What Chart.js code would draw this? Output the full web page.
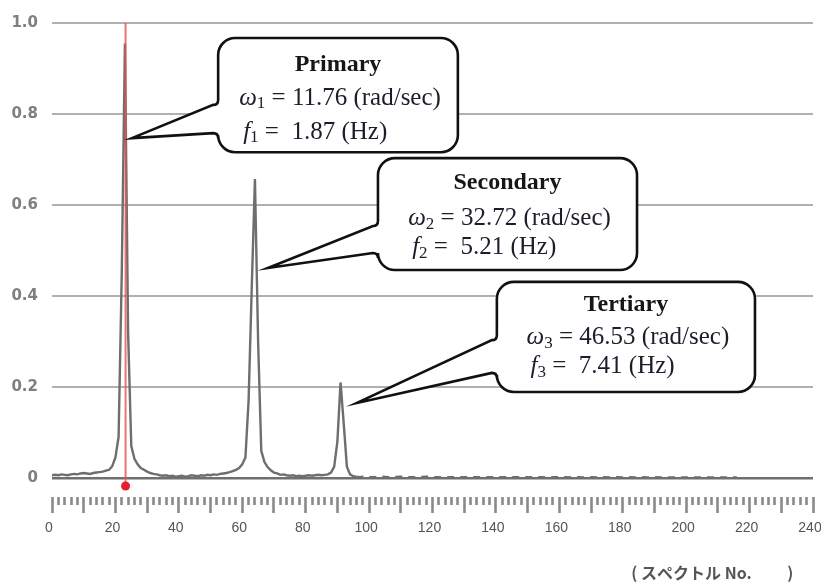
<!DOCTYPE html>
<html>
<head>
<meta charset="utf-8">
<script src="https://cdn.jsdelivr.net/npm/chart.js@4.4.1/dist/chart.umd.min.js"></script>
<style>
  html, body { margin: 0; padding: 0; background: #fff; }
  #wrap { width: 821px; height: 586px; }
</style>
</head>
<body>
<div id="wrap"><canvas id="grafica" width="821" height="586"></canvas></div>
<script>
// Espectro: número de espectro (x) y amplitud normalizada (y)
const spectrumNo = [
  0, 1, 2, 3, 4, 5, 6, 7, 8, 9, 10, 11, 12, 13, 14, 15, 16, 17, 18, 19,
  20, 21, 22, 23, 24, 25, 26, 27, 28, 29, 30, 31, 32, 33, 34, 35, 36, 37, 38, 39,
  40, 41, 42, 43, 44, 45, 46, 47, 48, 49, 50, 51, 52, 53, 54, 55, 56, 57, 58, 59,
  60, 61, 62, 63, 64, 65, 66, 67, 68, 69, 70, 71, 72, 73, 74, 75, 76, 77, 78, 79,
  80, 81, 82, 83, 84, 85, 86, 87, 88, 89, 90, 91, 92, 93, 94, 95, 96, 97, 98, 99,
  100, 102, 104, 106, 108, 110, 112, 114, 116, 118, 120, 122, 124, 126, 128, 130,
  132, 134, 136, 138, 140, 142, 144, 146, 148, 150, 152, 154, 156, 158, 160, 162,
  164, 166, 168, 170, 172, 174, 176, 178, 180, 182, 184, 186, 188, 190, 192, 194,
  196, 198, 200, 202, 204, 206, 208, 210, 212, 214, 216
];
const amplitude = [
  0.006, 0.007, 0.006, 0.008, 0.007, 0.006, 0.008, 0.009, 0.008, 0.010, 0.011, 0.010, 0.009, 0.011, 0.012, 0.013, 0.014, 0.016, 0.018, 0.026,
  0.045, 0.090, 0.450, 0.955, 0.320, 0.070, 0.042, 0.030, 0.022, 0.018, 0.014, 0.011, 0.009, 0.008, 0.006, 0.005, 0.006, 0.004, 0.005, 0.003,
  0.004, 0.005, 0.003, 0.004, 0.006, 0.005, 0.004, 0.006, 0.005, 0.007, 0.006, 0.008, 0.007, 0.009, 0.010, 0.011, 0.013, 0.015, 0.018, 0.022,
  0.030, 0.045, 0.170, 0.420, 0.657, 0.300, 0.060, 0.035, 0.024, 0.017, 0.012, 0.010, 0.007, 0.008, 0.006, 0.005, 0.006, 0.004, 0.005, 0.004,
  0.005, 0.006, 0.005, 0.006, 0.007, 0.006, 0.007, 0.008, 0.012, 0.025, 0.080, 0.210, 0.120, 0.025, 0.008, 0.004, 0.003, 0.002, 0.003, 0.002,
  0.002, 0.002, 0.003, 0.002, 0.002, 0.003, 0.002, 0.002, 0.002, 0.003, 0.002, 0.002, 0.002, 0.002, 0.002, 0.002,
  0.002, 0.002, 0.002, 0.002, 0.002, 0.002, 0.002, 0.002, 0.002, 0.002, 0.002, 0.002, 0.002, 0.002, 0.002, 0.002,
  0.001, 0.002, 0.001, 0.002, 0.001, 0.002, 0.001, 0.002, 0.001, 0.002, 0.001, 0.002, 0.001, 0.002, 0.001, 0.001,
  0.001, 0.001, 0.001, 0.001, 0.001, 0.001, 0.001, 0.001, 0.001, 0.001, 0.001, 0.001, 0.001
];

// Línea roja del pico primario
const markerSpectrumNo = 23.2;
const markerAmplitude = [1.0, -0.0176];

// Textos de los globos
const peakNames = ['Primary', 'Secondary', 'Tertiary'];
const peakIndex = ['1', '2', '3'];
const omegaValues = ['11.76', '32.72', '46.53'];
const freqValues = ['1.87', '5.21', '7.41'];

// Geometría de los globos en unidades de datos (caja, punta, uniones) + filas de texto en px
const calloutBoxes = [
  { x0: 52.4, x1: 128.0, yTop: 0.967, yBottom: 0.716, tipX: 25.2, tipY: 0.747, joinTop: 0.820, joinBottom: 0.758, rows: [27, 60, 94] },
  { x0: 102.8, x1: 184.5, yTop: 0.703, yBottom: 0.457, tipX: 68.1, tipY: 0.4615, joinTop: 0.554, joinBottom: 0.4945, rows: [25, 60, 89] },
  { x0: 140.3, x1: 221.7, yTop: 0.431, yBottom: 0.189, tipX: 96.2, tipY: 0.165, joinTop: 0.303, joinBottom: 0.231, rows: [23, 56, 85] }
];

const serif = '"Liberation Serif", "DejaVu Serif", serif';

function drawRich(ctx, parts, startX, y) {
  let xPos = startX;
  parts.forEach(p => {
    ctx.font = p.font;
    ctx.fillText(p.text, xPos, y + (p.dy || 0));
    xPos += ctx.measureText(p.text).width;
  });
}
function richWidth(ctx, parts) {
  let w = 0;
  parts.forEach(p => { ctx.font = p.font; w += ctx.measureText(p.text).width; });
  return w;
}

const calloutPlugin = {
  id: 'callouts',
  afterDatasetsDraw(chart) {
    const { ctx, scales: { x, y } } = chart;
    calloutBoxes.forEach((b, i) => {
      const L = x.getPixelForValue(b.x0), R = x.getPixelForValue(b.x1);
      const T = y.getPixelForValue(b.yTop), B = y.getPixelForValue(b.yBottom);
      const tx = x.getPixelForValue(b.tipX), ty = y.getPixelForValue(b.tipY);
      const j1 = y.getPixelForValue(b.joinTop), j2 = y.getPixelForValue(b.joinBottom);
      const r = 17;

      ctx.save();
      ctx.beginPath();
      ctx.moveTo(L + r, T);
      ctx.arcTo(R, T, R, B, r);
      ctx.arcTo(R, B, L, B, r);
      ctx.arcTo(L, B, L, T, r);
      ctx.lineTo(L, j2 + 5);
      ctx.quadraticCurveTo(L, j2, L - 5, j2);
      ctx.lineTo(tx, ty);
      ctx.lineTo(L - 5, j1);
      ctx.quadraticCurveTo(L, j1, L, j1 - 5);
      ctx.arcTo(L, T, R, T, r);
      ctx.closePath();
      ctx.fillStyle = '#ffffff';
      ctx.fill();
      ctx.lineWidth = 2.6;
      ctx.lineJoin = 'miter';
      ctx.strokeStyle = '#111111';
      ctx.stroke();

      const cx = (L + R) / 2;
      ctx.fillStyle = '#161616';
      ctx.textBaseline = 'middle';
      ctx.textAlign = 'center';
      ctx.font = 'bold 24px ' + serif;
      ctx.fillText(peakNames[i], cx, T + b.rows[0]);

      ctx.textAlign = 'left';
      ctx.fillStyle = '#1c1c2a';
      const line2 = [
        { text: 'ω', font: 'italic 25px ' + serif },
        { text: peakIndex[i], font: '17px ' + serif, dy: 6 },
        { text: ' = ' + omegaValues[i] + ' (rad/sec)', font: '25px ' + serif }
      ];
      const line3 = [
        { text: 'f', font: 'italic 25px ' + serif },
        { text: peakIndex[i], font: '17px ' + serif, dy: 6 },
        { text: ' =  ' + freqValues[i] + ' (Hz)', font: '25px ' + serif }
      ];
      const start = cx - richWidth(ctx, line2) / 2 + 2;
      drawRich(ctx, line2, start, T + b.rows[1]);
      drawRich(ctx, line3, start + 4, T + b.rows[2]);
      ctx.restore();
    });
  }
};

const ctx = document.getElementById('grafica').getContext('2d');
const chart = new Chart(ctx, {
  type: 'line',
  data: {
    datasets: [
      {
        label: 'marker',
        data: markerAmplitude.map(v => ({ x: markerSpectrumNo, y: v })),
        borderColor: 'rgba(235, 80, 80, 0.8)',
        borderWidth: 2,
        pointRadius: [0, 4.5],
        pointHoverRadius: 10,
        pointBackgroundColor: '#e5202a',
        pointBorderWidth: 0,
        clip: false,
        order: 0
      },
      {
        label: 'spectrum',
        data: spectrumNo.map((v, i) => ({ x: v, y: amplitude[i] })),
        borderColor: '#6e6e6e',
        borderWidth: 2.4,
        pointRadius: 0,
        tension: 0,
        order: 1,
        segment: {
          borderDash: c => (c.p0.parsed.x >= 96 ? [7, 6] : undefined)
        }
      }
    ]
  },
  options: {
    responsive: false,
    animation: false,
    devicePixelRatio: 1,
    events: [],
    layout: { autoPadding: false, padding: { top: 23, right: 8, left: 0, bottom: 0 } },
    plugins: { legend: { display: false }, tooltip: { enabled: false } },
    scales: {
      x: {
        type: 'linear',
        min: 0,
        max: 240,
        border: { display: false },
        grid: {
          drawOnChartArea: false,
          drawTicks: true,
          tickLength: 35,
          tickWidth: 2.6,
          tickColor: '#8a8a8a',
          tickBorderDash: c => (c.tick && c.tick.value % 10 === 0 ? [0, 19, 16, 100] : [0, 19, 8, 100])
        },
        ticks: {
          stepSize: 2,
          autoSkip: false,
          maxRotation: 0,
          padding: 7,
          labelOffset: -3,
          color: '#555555',
          font: { family: '"Liberation Sans", sans-serif', size: 14 },
          callback: v => (v % 20 === 0 ? String(v) : '')
        },
        title: {
          display: true,
          text: '( スペクトル No.\u3000\u3000 )\u3000 ',
          align: 'end',
          color: '#555555',
          font: { family: '"Noto Sans CJK JP", sans-serif', size: 16, weight: 'bold' },
          padding: { top: 0, bottom: 3 }
        },
        afterFit: s => { s.height = 108; s.paddingLeft = 0; s.paddingRight = 0; }
      },
      y: {
        min: 0,
        max: 1.0,
        border: { display: false },
        grid: {
          drawTicks: false,
          color: c => (c.tick.value === 0 ? '#6f6f6f' : '#b0b0b0'),
          lineWidth: c => (c.tick.value === 0 ? 2.5 : 2)
        },
        ticks: {
          stepSize: 0.2,
          padding: 14,
          color: '#7f7f7f',
          font: { family: '"DejaVu Sans", sans-serif', size: 15, weight: 'bold' },
          callback: v => (v === 0 ? '0' : v.toFixed(1))
        },
        afterFit: s => { s.width = 52; s.paddingTop = 0; s.paddingBottom = 0; }
      }
    }
  },
  plugins: [calloutPlugin]
});
</script>
</body>
</html>
